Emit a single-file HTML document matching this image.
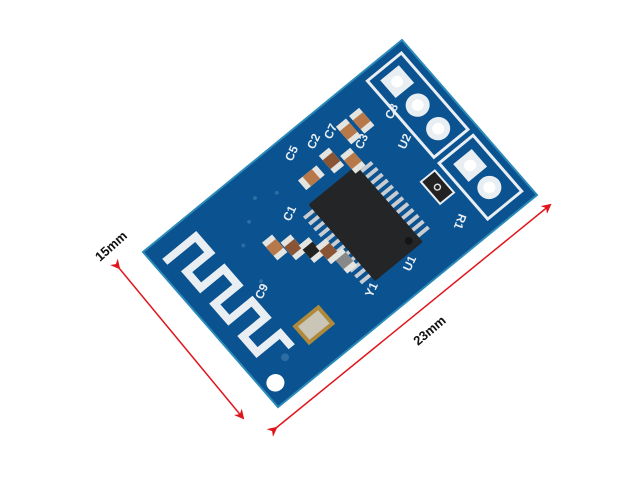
<!DOCTYPE html>
<html><head><meta charset="utf-8"><style>
html,body{margin:0;padding:0;background:#fff;}
svg{display:block}
</style></head><body>
<svg width="640" height="480" viewBox="0 0 640 480" xmlns="http://www.w3.org/2000/svg" font-family="Liberation Sans, sans-serif">
<defs>
<marker id="ar" markerWidth="10" markerHeight="10" refX="8" refY="5" orient="auto" markerUnits="userSpaceOnUse">
<path d="M0,0 L10,5 L0,10 L3,5 Z" fill="#e0151b"/>
</marker>
</defs>
<rect width="640" height="480" fill="#fff"/>
<g transform="matrix(0.773,-0.633,0.64,0.735,143,252)">
  <rect x="0" y="0" width="335" height="211" fill="#0b5290"/>
  <rect x="0" y="0" width="335" height="211" fill="none" stroke="#2a8ab8" stroke-width="2"/>
  <!-- antenna meander -->
  <path d="M10,22 H50 V44 H20 V66 H50 V88 H20 V110 H50 V132 H20 V154 H50 V172" fill="none" stroke="#e8eef2" stroke-width="8"/>
  <!-- mounting hole -->
  <circle cx="14" cy="190" r="9" fill="#fff"/>
  <circle cx="38" cy="176" r="4" fill="#2c6ea3"/>
  <!-- header outlines -->
  <rect x="282" y="10" width="44" height="104" fill="none" stroke="#e8eef2" stroke-width="3"/>
  <rect x="282" y="122" width="44" height="76" fill="none" stroke="#e8eef2" stroke-width="3"/>
  <rect x="292" y="18" width="24" height="24" fill="#e8eef2"/>
  <circle cx="304" cy="30" r="6" fill="#fff"/>
  <circle cx="304" cy="62" r="12" fill="#e8eef2"/><circle cx="304" cy="62" r="6" fill="#fff"/>
  <circle cx="304" cy="94" r="12" fill="#e8eef2"/><circle cx="304" cy="94" r="6" fill="#fff"/>
  <rect x="292" y="132" width="24" height="24" fill="#e8eef2"/>
  <circle cx="304" cy="144" r="6" fill="#fff"/>
  <circle cx="304" cy="174" r="12" fill="#e8eef2"/><circle cx="304" cy="174" r="6" fill="#fff"/>
  <!-- R1 -->
  <rect x="256" y="125" width="18" height="30" fill="#222" stroke="#e8eef2" stroke-width="2"/>
  <circle cx="265" cy="140" r="3" fill="none" stroke="#ddd" stroke-width="1.5"/>
  <!-- chip pins -->
  <g fill="#c9cdd1">
    <rect x="144" y="76" width="18" height="4"/><rect x="144" y="84" width="18" height="4"/>
    <rect x="144" y="92" width="18" height="4"/><rect x="144" y="100" width="18" height="4"/>
    <rect x="144" y="108" width="18" height="4"/><rect x="144" y="116" width="18" height="4"/>
    <rect x="144" y="124" width="18" height="4"/><rect x="144" y="132" width="18" height="4"/>
    <rect x="144" y="140" width="18" height="4"/><rect x="144" y="148" width="18" height="4"/>
    <rect x="144" y="156" width="18" height="4"/><rect x="144" y="164" width="18" height="4"/>
    <rect x="214" y="76" width="18" height="4"/><rect x="214" y="84" width="18" height="4"/>
    <rect x="214" y="92" width="18" height="4"/><rect x="214" y="100" width="18" height="4"/>
    <rect x="214" y="108" width="18" height="4"/><rect x="214" y="116" width="18" height="4"/>
    <rect x="214" y="124" width="18" height="4"/><rect x="214" y="132" width="18" height="4"/>
    <rect x="214" y="140" width="18" height="4"/><rect x="214" y="148" width="18" height="4"/>
    <rect x="214" y="156" width="18" height="4"/><rect x="214" y="164" width="18" height="4"/>
  </g>
  <rect x="156" y="70" width="62" height="104" fill="#232527" rx="2"/>
  <circle cx="208" cy="164" r="4" fill="#151515"/>
  <!-- crystal -->
  <rect x="64" y="156" width="34" height="26" fill="#b08a3a"/>
  <rect x="68" y="160" width="26" height="18" fill="#c9c6b8"/>
  <!-- capacitors -->
  <g>
    <rect x="228" y="26" width="13" height="24" fill="#e4e4e0"/><rect x="228" y="32" width="13" height="12" fill="#b7784a"/>
    <rect x="245" y="26" width="13" height="24" fill="#e4e4e0"/><rect x="245" y="32" width="13" height="12" fill="#b7784a"/>
    <rect x="196" y="38" width="13" height="24" fill="#e4e4e0"/><rect x="196" y="44" width="13" height="12" fill="#8a5535"/>
    <rect x="212" y="52" width="13" height="24" fill="#e4e4e0"/><rect x="212" y="58" width="13" height="12" fill="#b7784a"/>
    <rect x="164" y="44" width="24" height="13" fill="#e4e4e0"/><rect x="170" y="44" width="12" height="13" fill="#b7784a"/>
    <rect x="96" y="70" width="13" height="24" fill="#e4e4e0"/><rect x="96" y="76" width="13" height="12" fill="#b7784a"/>
    <rect x="110" y="82" width="13" height="24" fill="#e4e4e0"/><rect x="110" y="88" width="13" height="12" fill="#8a5535"/>
    <rect x="122" y="96" width="13" height="24" fill="#e4e4e0"/><rect x="122" y="102" width="13" height="12" fill="#222"/>
    <rect x="134" y="108" width="13" height="24" fill="#e4e4e0"/><rect x="134" y="114" width="13" height="12" fill="#8a5535"/>
    <rect x="140" y="126" width="13" height="24" fill="#e4e4e0"/><rect x="140" y="132" width="13" height="12" fill="#888"/>
  </g>
  <g fill="#2c6ea3">
    <circle cx="120" cy="30" r="2"/><circle cx="140" cy="40" r="2"/><circle cx="100" cy="45" r="2"/><circle cx="80" cy="60" r="2"/><circle cx="70" cy="100" r="2"/>
  </g>
</g>
<!-- silkscreen labels -->
<g fill="#e8eef2" font-size="12" font-weight="bold">
  <text transform="translate(292,162) rotate(-65)">C5</text>
  <text transform="translate(314,150) rotate(-65)">C2</text>
  <text transform="translate(331,140) rotate(-65)">C7</text>
  <text transform="translate(362,150) rotate(-65)">C3</text>
  <text transform="translate(392,120) rotate(-65)">C8</text>
  <text transform="translate(405,150) rotate(-65)">U2</text>
  <text transform="translate(290,222) rotate(-65)">C1</text>
  <text transform="translate(372,298) rotate(-65)">Y1</text>
  <text transform="translate(410,272) rotate(-65)">U1</text>
  <text transform="translate(459,213) rotate(110)">R1</text>
  <text transform="translate(262,300) rotate(-65)">C9</text>
</g>
<!-- dimension arrows -->
<line x1="119" y1="268" x2="243" y2="418" stroke="#e0151b" stroke-width="1.5" marker-end="url(#ar)" marker-start="url(#ar)"/>
<line x1="276" y1="428" x2="550" y2="205" stroke="#e0151b" stroke-width="1.5" marker-end="url(#ar)" marker-start="url(#ar)"/>
<text transform="translate(100,262) rotate(-42)" font-size="13" font-weight="bold" fill="#111">15mm</text>
<text transform="translate(418,346) rotate(-40)" font-size="13" font-weight="bold" fill="#111">23mm</text>
</svg>
</body></html>
